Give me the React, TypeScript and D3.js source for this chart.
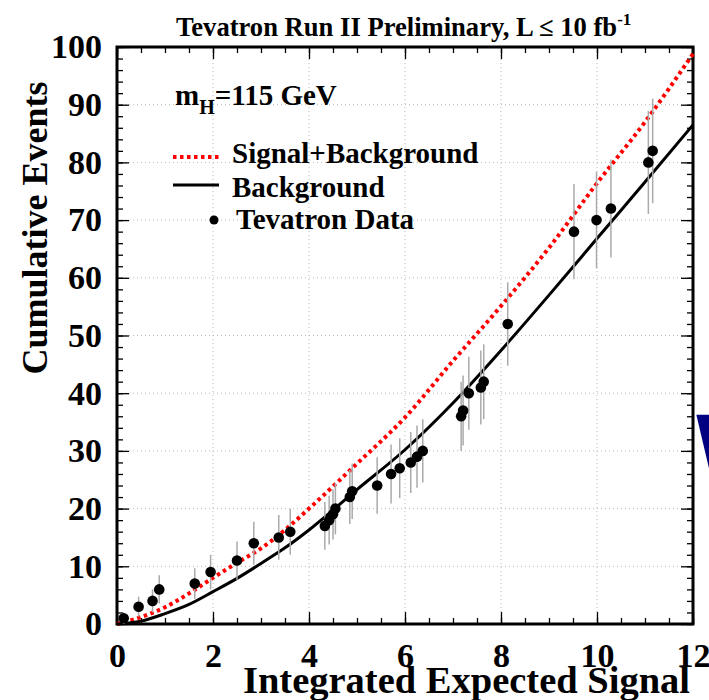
import React, { useEffect, useRef } from 'react';
import * as d3 from 'd3';

// axis ticks
const xTickValues = [0, 2, 4, 6, 8, 10, 12];
const yTickValues = [0, 10, 20, 30, 40, 50, 60, 70, 80, 90, 100];

// expected curves
const curveX = [0, 0.5, 1, 1.5, 2, 2.5, 3, 3.5, 4, 5, 6, 7, 8, 9, 10, 11, 12];
const backgroundY = [0, 0.5, 1.8, 3.4, 5.6, 7.9, 10.5, 13.2, 16.3, 23.3, 30.2, 38.3, 47.4, 57.0, 66.8, 76.6, 86.5];
const signalBackgroundY = [0, 1.2, 2.9, 5.3, 8.0, 10.6, 13.1, 16.3, 20.0, 27.8, 35.8, 45.6, 55.1, 65.2, 76.4, 87.0, 98.8];

// Tevatron data: integrated expected signal vs cumulative events
const dataX = [0.14, 0.45, 0.74, 0.88, 1.62, 1.95, 2.5, 2.85, 3.37, 3.61, 4.33, 4.42, 4.5, 4.55, 4.85, 4.9, 5.42, 5.71, 5.89, 6.12, 6.25, 6.37, 7.17, 7.21, 7.33, 7.58, 7.64, 8.14, 9.52, 9.99, 10.29, 11.07, 11.16];
const dataY = [1, 3, 4, 6, 7, 9, 11, 14, 15, 16, 17, 18, 19, 20, 22, 23, 24, 26, 27, 28, 29, 30, 36, 37, 40, 41, 42, 52, 68, 70, 72, 80, 82];

const FONT = "'Liberation Serif', 'Times New Roman', serif";

export default function App() {
  const ref = useRef<SVGSVGElement>(null);

  useEffect(() => {
    const svg = d3.select(ref.current);
    svg.selectAll('*').remove();

    const x = d3.scaleLinear().domain([0, 12]).range([117, 693]);
    const y = d3.scaleLinear().domain([0, 100]).range([624, 47]);

    // grid
    const grid = svg.append('g').attr('stroke', '#bbb').attr('stroke-width', 1).attr('stroke-dasharray', '1,3');
    xTickValues.slice(1, -1).forEach(v => {
      grid.append('line').attr('x1', x(v)).attr('x2', x(v)).attr('y1', y(0)).attr('y2', y(100));
    });
    yTickValues.slice(1, -1).forEach(v => {
      grid.append('line').attr('x1', x(0)).attr('x2', x(12)).attr('y1', y(v)).attr('y2', y(v));
    });

    // minor ticks
    const xMinor = d3.range(0, 12.01, 0.5);
    const yMinor = d3.range(0, 100.1, 2);
    const addAxis = (axis: any, tx: number, ty: number) =>
      svg.append('g').attr('transform', `translate(${tx},${ty})`).call(axis);

    const styleAxis = (g: any) => {
      g.select('.domain').remove();
      g.selectAll('line').attr('stroke', '#000').attr('stroke-width', 1.3);
      g.selectAll('text')
        .attr('font-family', FONT)
        .attr('font-weight', 'bold')
        .attr('font-size', 34)
        .attr('fill', '#000');
    };

    styleAxis(addAxis(d3.axisBottom(x).tickValues(xMinor).tickSize(-6).tickFormat(() => ''), 0, y(0)));
    styleAxis(addAxis(d3.axisTop(x).tickValues(xMinor).tickSize(-6).tickFormat(() => ''), 0, y(100)));
    styleAxis(addAxis(d3.axisLeft(y).tickValues(yMinor).tickSize(-6).tickFormat(() => ''), x(0), 0));
    styleAxis(addAxis(d3.axisRight(y).tickValues(yMinor).tickSize(-6).tickFormat(() => ''), x(12), 0));

    styleAxis(addAxis(d3.axisBottom(x).tickValues(xTickValues).tickSize(-12).tickPadding(19).tickFormat(d3.format('d')), 0, y(0)));
    styleAxis(addAxis(d3.axisTop(x).tickValues(xTickValues).tickSize(-12).tickFormat(() => ''), 0, y(100)));
    styleAxis(addAxis(d3.axisLeft(y).tickValues(yTickValues).tickSize(-12).tickPadding(15).tickFormat(d3.format('d')), x(0), 0));
    styleAxis(addAxis(d3.axisRight(y).tickValues(yTickValues).tickSize(-12).tickFormat(() => ''), x(12), 0));

    // frame
    svg.append('rect')
      .attr('x', x(0)).attr('y', y(100))
      .attr('width', x(12) - x(0)).attr('height', y(0) - y(100))
      .attr('fill', 'none').attr('stroke', '#000').attr('stroke-width', 3);

    // curves
    const line = d3.line<number>()
      .x((d, i) => x(curveX[i]))
      .y(d => y(d))
      .curve(d3.curveMonotoneX);

    svg.append('path')
      .attr('d', line(signalBackgroundY))
      .attr('fill', 'none').attr('stroke', '#ff0000')
      .attr('stroke-width', 4).attr('stroke-dasharray', '3.5,3.5');

    svg.append('path')
      .attr('d', line(backgroundY))
      .attr('fill', 'none').attr('stroke', '#000')
      .attr('stroke-width', 3);

    // data with poisson error bars
    const pts = svg.append('g');
    dataY.forEach((v, i) => {
      const e = Math.sqrt(v);
      pts.append('line')
        .attr('x1', x(dataX[i])).attr('x2', x(dataX[i]))
        .attr('y1', y(Math.max(0, v - e))).attr('y2', y(v + e))
        .attr('stroke', '#aaa').attr('stroke-width', 1.5);
    });
    dataY.forEach((v, i) => {
      pts.append('circle')
        .attr('cx', x(dataX[i])).attr('cy', y(v)).attr('r', 5.3).attr('fill', '#000');
    });

    // legend
    const txt = (tx: number, ty: number, s: string, size: number) =>
      svg.append('text').attr('x', tx).attr('y', ty)
        .attr('font-family', FONT).attr('font-weight', 'bold')
        .attr('font-size', size).attr('fill', '#000').text(s);

    const mh = svg.append('text').attr('x', 175).attr('y', 105)
      .attr('font-family', FONT).attr('font-weight', 'bold').attr('font-size', 29);
    mh.append('tspan').text('m');
    mh.append('tspan').attr('font-size', 20).attr('dy', 9).text('H');
    mh.append('tspan').attr('dy', -9).text('=115 GeV');

    svg.append('line').attr('x1', 173).attr('x2', 219).attr('y1', 157).attr('y2', 157)
      .attr('stroke', '#ff0000').attr('stroke-width', 4).attr('stroke-dasharray', '3.5,3.5');
    txt(232, 163, 'Signal+Background', 29);
    svg.append('line').attr('x1', 173).attr('x2', 219).attr('y1', 185).attr('y2', 185)
      .attr('stroke', '#000').attr('stroke-width', 3);
    txt(232, 197, 'Background', 29);
    svg.append('circle').attr('cx', 214).attr('cy', 220).attr('r', 4.5).attr('fill', '#000');
    txt(236, 229, 'Tevatron Data', 29);

    // title
    const title = svg.append('text').attr('x', 176).attr('y', 36)
      .attr('font-family', FONT).attr('font-weight', 'bold').attr('font-size', 26.6);
    title.append('tspan').text('Tevatron Run II Preliminary, L \u2264 10 fb');
    title.append('tspan').attr('font-size', 17).attr('dy', -11).text('-1');

    // axis titles
    svg.append('text').attr('x', 690).attr('y', 693).attr('text-anchor', 'end')
      .attr('font-family', FONT).attr('font-weight', 'bold').attr('font-size', 38.5)
      .text('Integrated Expected Signal');
    svg.append('text')
      .attr('transform', 'translate(47,228) rotate(-90)')
      .attr('text-anchor', 'middle')
      .attr('font-family', FONT).attr('font-weight', 'bold').attr('font-size', 36)
      .text('Cumulative Events');

    // cut-off blue letter at the right edge
    svg.append('text').attr('x', 694).attr('y', 472)
      .attr('font-family', "'DejaVu Sans', sans-serif").attr('font-weight', 'bold')
      .attr('font-size', 78).attr('fill', '#000080').text('W');
  }, []);

  return (
    <svg
      ref={ref}
      width={709}
      height={700}
      style={{ position: 'absolute', left: 0, top: 0, background: '#fff' }}
    />
  );
}
